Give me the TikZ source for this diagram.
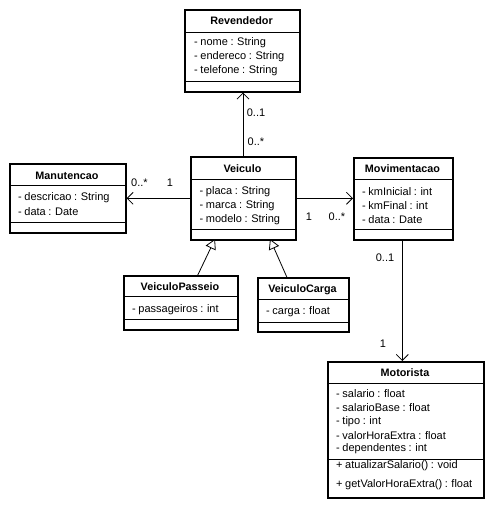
\documentclass[tikz,border=0pt]{standalone}
\usepackage{fontspec}
\setmainfont{Liberation Sans}
\usetikzlibrary{arrows.meta}
\newcommand{\tightsp}{\spaceskip=2.6pt plus 1pt minus 0.5pt\relax}
\begin{document}
\begin{tikzpicture}[x=1pt,y=-1pt,
  cls/.style={draw, line width=1.6pt, anchor=north west, inner sep=0pt},
  sep/.style={line width=0.8pt},
  title/.style={font=\fontsize{10.8}{12}\selectfont\bfseries, inner sep=0pt},
  attr/.style={font=\fontsize{11}{12}\selectfont\tightsp, anchor=west, inner sep=0pt},
  lbl/.style={font=\fontsize{11}{12}\selectfont, inner sep=0pt},
  assoc/.style={line width=0.8pt, -{Straight Barb[length=6pt,width=12pt,line width=0.8pt]}},
  inh/.style={line width=0.8pt, -{Triangle[open,length=10pt,width=11pt,line width=0.8pt,fill=white]}}]
\useasboundingbox[fill=white] (0,0) rectangle (494,511);

% Revendedor
\node[cls, minimum width=115pt, minimum height=82pt] (rev) at (184,9) {};
\draw[sep] (184,32) -- (299,32);
\draw[sep] (184,81) -- (299,81);
\node[title] (revt) at (241.5,21) {Revendedor};
\node[attr] (reva1) at (194,43) {- nome : String};
\node[attr] (reva2) at (194,57) {- endereco : String};
\node[attr] (reva3) at (194,71) {- telefone : String};

% Manutencao
\node[cls, minimum width=116pt, minimum height=69pt] (man) at (9,163) {};
\draw[sep] (9,185) -- (125,185);
\draw[sep] (9,222) -- (125,222);
\node[title] (mant) at (67,175.5) {Manutencao};
\node[attr] (mana1) at (18,197.7) {- descricao : String};
\node[attr] (mana2) at (18,211.7) {- data : Date};

% Veiculo
\node[cls, minimum width=105pt, minimum height=83pt] (vei) at (190,156) {};
\draw[sep] (190,179) -- (295,179);
\draw[sep] (190,229) -- (295,229);
\node[title] (veit) at (242.5,168.5) {Veiculo};
\node[attr] (veia1) at (199.5,191.7) {- placa : String};
\node[attr] (veia2) at (199.5,205.3) {- marca : String};
\node[attr] (veia3) at (199.5,219.3) {- modelo : String};

% Movimentacao
\node[cls, minimum width=99pt, minimum height=82pt] (mov) at (353,157) {};
\draw[sep] (353,179) -- (452,179);
\draw[sep] (353,229) -- (452,229);
\node[title] (movt) at (402.5,168.5) {Movimentacao};
\node[attr] (mova1) at (362,191.7) {- kmInicial : int};
\node[attr] (mova2) at (362,205.3) {- kmFinal : int};
\node[attr] (mova3) at (362,219.3) {- data : Date};

% VeiculoPasseio
\node[cls, minimum width=114pt, minimum height=54pt] (pas) at (123,275) {};
\draw[sep] (123,296) -- (237,296);
\draw[sep] (123,319) -- (237,319);
\node[title] (past) at (180,286.5) {VeiculoPasseio};
\node[attr] (pasa1) at (132,310) {- passageiros : int};

% VeiculoCarga
\node[cls, minimum width=91pt, minimum height=54pt] (car) at (257,277) {};
\draw[sep] (257,299) -- (348,299);
\draw[sep] (257,322) -- (348,322);
\node[title] (cart) at (302.5,289.5) {VeiculoCarga};
\node[attr] (cara1) at (266,311.7) {- carga : float};

% Motorista
\node[cls, minimum width=156pt, minimum height=136pt] (mot) at (327,361) {};
\draw[sep] (327,383) -- (483,383);
\draw[sep] (327,459) -- (483,459);
\node[title] (mott) at (405,373) {Motorista};
\node[attr] (mota1) at (336,393.3) {- salario : float};
\node[attr] (mota2) at (336,407.5) {- salarioBase : float};
\node[attr] (mota3) at (336,421.3) {- tipo : int};
\node[attr] (mota4) at (336,435.3) {- valorHoraExtra : float};
\node[attr] (mota5) at (336,449) {- dependentes : int};
\node[attr] (motm1) at (336,466) {+ atualizarSalario() : void};
\node[attr] (motm2) at (336,485) {+ getValorHoraExtra() : float};

% associations
\draw[assoc] (243,156) coordinate (v1) -- (v1 |- rev.south);
\draw[assoc] (vei.west) -- (vei.west -| man.east);
\draw[assoc] (vei.east) -- (vei.east -| mov.west);
\draw[assoc] (402.3,239) coordinate (m1) -- (m1 |- mot.north);

% multiplicities
\node[lbl] (l1) at (256,112.7) {0..1};
\node[lbl] (l2) at (256,141.7) {0..*};
\node[lbl] (l3) at (139.5,183) {0..*};
\node[lbl] (l4) at (170,183) {1};
\node[lbl] (l5) at (309,216.7) {1};
\node[lbl] (l6) at (337,216.7) {0..*};
\node[lbl] (l7) at (385,258) {0..1};
\node[lbl] (l8) at (383,344) {1};

% generalizations
\coordinate (g1) at (215,239);
\coordinate (g2) at (270,239);
\draw[inh] ([xshift=17pt]pas.north) -- (g1);
\draw[inh] ([xshift=-16.5pt]car.north) -- (g2);
\end{tikzpicture}
\end{document}
